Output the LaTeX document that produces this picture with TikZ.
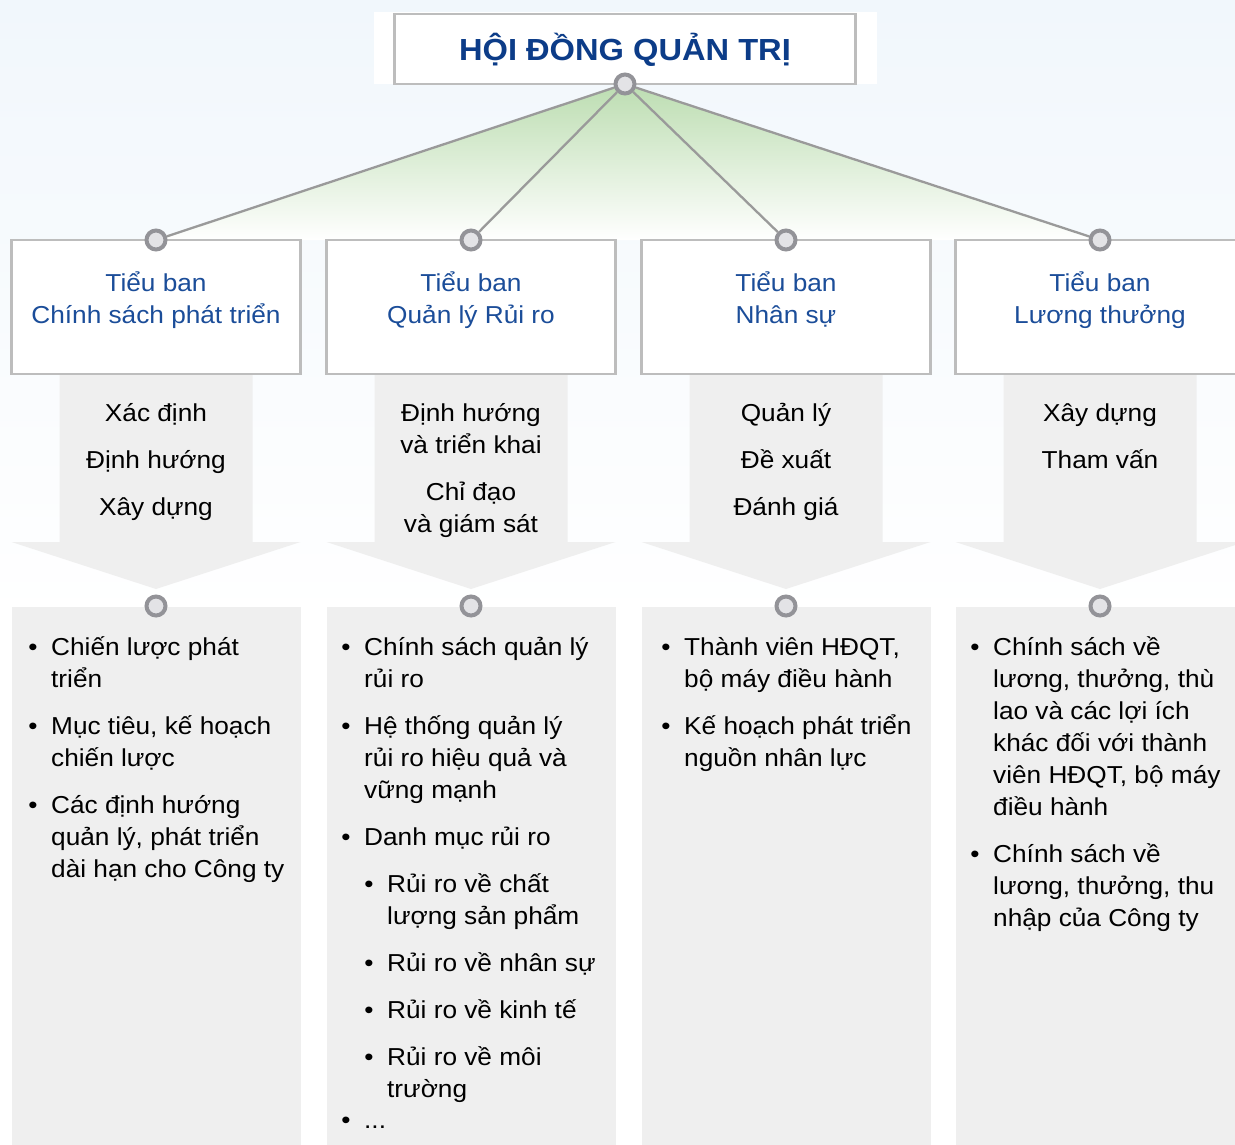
\documentclass[tikz,border=0pt]{standalone}
\usepackage{fontspec}
\setmainfont{Liberation Sans}[FakeStretch=1.07]
\definecolor{bgblue}{HTML}{F1F7FC}
\definecolor{fangreen}{HTML}{BCDDB1}
\definecolor{boxborder}{HTML}{BDBDBD}
\definecolor{colgray}{HTML}{EFEFEF}
\definecolor{circgray}{HTML}{939398}
\definecolor{circfill}{HTML}{E3E3E6}
\definecolor{linegray}{HTML}{9A9A9A}
\definecolor{titleblue}{HTML}{0C3C88}
\definecolor{hdrblue}{HTML}{1B4D99}
\begin{document}
\begin{tikzpicture}[x=1pt,y=-1pt,
  circ/.style={circle,draw=circgray,fill=circfill,line width=4pt,minimum size=19pt,inner sep=0pt},
  conn/.style={draw=linegray,line width=2.3pt},
  cbox/.style={draw=boxborder,fill=white,line width=2.5pt,inner sep=0pt},
  hdr/.style={anchor=base,text=hdrblue,font=\fontsize{24.5}{28}\selectfont,inner sep=0pt},
  stemtxt/.style={anchor=base,text=black,font=\fontsize{24.5}{28}\selectfont,inner sep=0pt},
  itm/.style={anchor=base west,text=black,font=\fontsize{24.5}{28}\selectfont,inner sep=0pt},
  bul/.style={anchor=base,text=black,font=\fontsize{24.5}{28}\selectfont,inner sep=0pt}]
\useasboundingbox (0,0) rectangle (1235,1144);
\clip (0,0) rectangle (1235,1144);
% background
\fill[white] (0,0) rectangle (1235,1144);
\shade[top color=bgblue,bottom color=white] (0,0) rectangle (1235,620);
% fan
\coordinate (ptop) at (625,84);
\coordinate (pl) at (156,240);
\coordinate (pr) at (1100,240);
\shade[top color=fangreen,bottom color=white] (ptop) -- (pl) -- (pr) -- cycle;
% title
\fill[white] (374,12) rectangle (877,84);
\node[cbox,line width=2.5pt,minimum width=461pt,minimum height=70pt] (tbox) at (625,49) {};
\node[anchor=base,text=titleblue,font=\fontsize{30.5}{34}\bfseries\selectfont,inner sep=0pt] (ttext) at (625,60) {HỘI ĐỒNG QUẢN TRỊ};
% columns
\foreach \cx/\i in {156/1,471/2,786/3,1100/4}{
  \node[cbox,minimum width=289pt,minimum height=134pt] (box\i) at (\cx,307) {};
  \fill[colgray] (\cx-96.5,375) -- (\cx+96.5,375) -- (\cx+96.5,542) -- (\cx+144.5,542)
     -- (\cx,589) -- (\cx-144.5,542) -- (\cx-96.5,542) -- cycle;
  \fill[colgray] (\cx-144.5,607) rectangle (\cx+144.5,1150);
}
\node[circ] (top) at (ptop) {};
\foreach \cx/\i in {156/1,471/2,786/3,1100/4}{
  \node[circ] (kt\i) at (\cx,240) {};
  \node[circ] (kb\i) at (\cx,606) {};
  \draw[conn] (top) -- (kt\i);
}
% headers
\node[hdr] (h1a) at (156,291) {Tiểu ban};
\node[hdr] (h1b) at (156,323) {Chính sách phát triển};
\node[hdr] (h2a) at (471,291) {Tiểu ban};
\node[hdr] (h2b) at (471,323) {Quản lý Rủi ro};
\node[hdr] (h3a) at (786,291) {Tiểu ban};
\node[hdr] (h3b) at (786,323) {Nhân sự};
\node[hdr] (h4a) at (1100,291) {Tiểu ban};
\node[hdr] (h4b) at (1100,323) {Lương thưởng};
% stem texts
\foreach \y/\t [count=\n] in {421/Xác định,468/Định hướng,515/Xây dựng}
  \node[stemtxt] (s1-\n) at (156,\y) {\t};
\foreach \y/\t [count=\n] in {421/Định hướng,453/và triển khai,500/Chỉ đạo,532/và giám sát}
  \node[stemtxt] (s2-\n) at (471,\y) {\t};
\foreach \y/\t [count=\n] in {421/Quản lý,468/Đề xuất,515/Đánh giá}
  \node[stemtxt] (s3-\n) at (786,\y) {\t};
\foreach \y/\t [count=\n] in {421/Xây dựng,468/Tham vấn}
  \node[stemtxt] (s4-\n) at (1100,\y) {\t};
% column 1 list
\foreach \y [count=\n] in {655,734,813}
  \node[bul] (b1-\n) at (33,\y) {•};
\foreach \y/\t [count=\n] in {655/Chiến lược phát,687/triển,734/{Mục tiêu, kế hoạch},766/chiến lược,813/Các định hướng,845/{quản lý, phát triển},877/dài hạn cho Công ty}
  \node[itm] (t1-\n) at (51,\y) {\t};
% column 2 list
\foreach \y [count=\n] in {655,734,845,1128}
  \node[bul] (b2-\n) at (346,\y) {•};
\foreach \y [count=\n] in {892,971,1018,1065}
  \node[bul] (c2-\n) at (369,\y) {•};
\foreach \y/\t [count=\n] in {655/Chính sách quản lý,687/rủi ro,734/Hệ thống quản lý,766/rủi ro hiệu quả và,798/vững mạnh,845/Danh mục rủi ro}
  \node[itm] (t2-\n) at (364,\y) {\t};
\node[itm] (t2-dots) at (364,1128) {...};
\foreach \y/\t [count=\n] in {892/Rủi ro về chất,924/lượng sản phẩm,971/Rủi ro về nhân sự,1018/Rủi ro về kinh tế,1065/Rủi ro về môi,1097/trường}
  \node[itm] (u2-\n) at (387,\y) {\t};
% column 3 list
\foreach \y [count=\n] in {655,734}
  \node[bul] (b3-\n) at (666,\y) {•};
\foreach \y/\t [count=\n] in {655/{Thành viên HĐQT,},687/bộ máy điều hành,734/Kế hoạch phát triển,766/nguồn nhân lực}
  \node[itm] (t3-\n) at (684,\y) {\t};
% column 4 list
\foreach \y [count=\n] in {655,862}
  \node[bul] (b4-\n) at (975,\y) {•};
\foreach \y/\t [count=\n] in {655/Chính sách về,687/{lương, thưởng, thù},719/lao và các lợi ích,751/khác đối với thành,783/{viên HĐQT, bộ máy},815/điều hành,862/Chính sách về,894/{lương, thưởng, thu},926/nhập của Công ty}
  \node[itm] (t4-\n) at (993,\y) {\t};
\end{tikzpicture}
\end{document}
